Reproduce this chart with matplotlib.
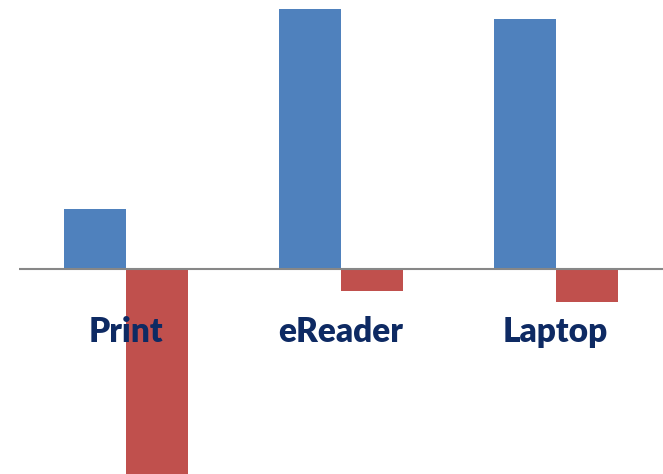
import matplotlib.pyplot as plt
import numpy as np

categories = ["Print", "eReader", "Laptop"]
blue_vals = [6.0, 26.0, 25.0]
red_vals = [-21.5, -2.2, -3.3]

fig = plt.figure(figsize=(6.63, 4.74), dpi=100)
ax = fig.add_axes([19 / 663, 0, 644 / 663, 1])

x = np.arange(len(categories))
w = 0.289
ax.bar(x - w / 2, blue_vals, w, color="#4F81BD", zorder=2)
ax.bar(x + w / 2, red_vals, w, color="#C0504D", zorder=2)
ax.axhline(0, color="#878787", lw=1.5, zorder=3)

for xi, name in zip(x, categories):
    ax.text(xi, -6.3, name, ha="center", va="center", fontsize=24,
            fontweight="heavy", family="Lato", color="#0E2A63", zorder=4)

ax.set_xlim(-0.5, 2.5)
ax.set_ylim(-20.55, 26.85)
ax.axis("off")

fig.savefig("out.png", dpi=100)
